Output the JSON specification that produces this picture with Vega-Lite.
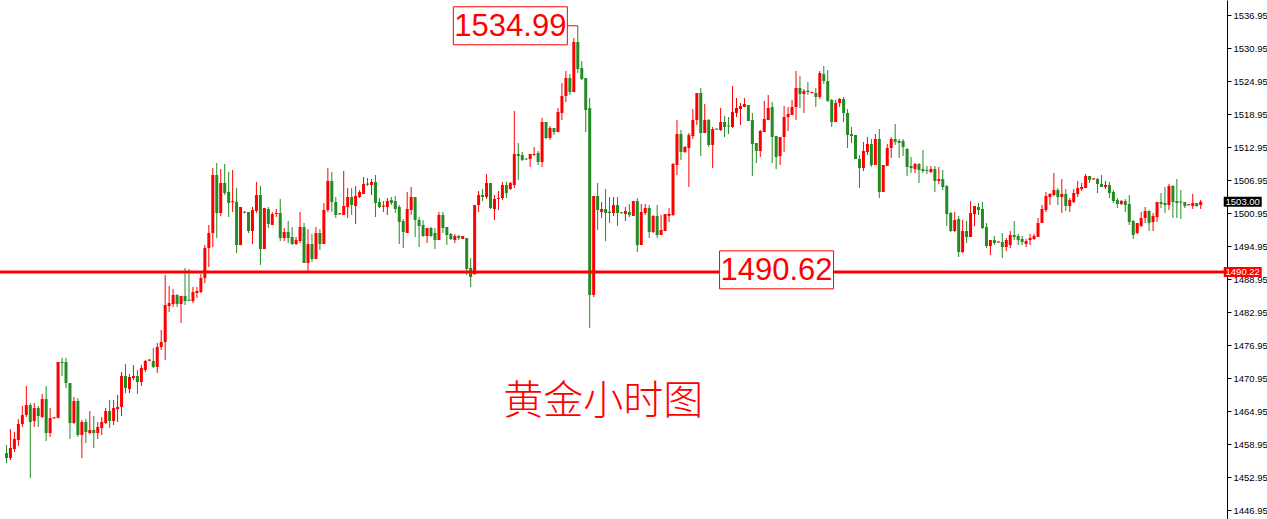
{
"$schema": "https://vega.github.io/schema/vega-lite/v6.json",
"width": 1227, "height": 519,
"autosize": {"type": "none"},
"padding": {"left": 0, "top": 0, "right": 40, "bottom": 0},
"background": "#ffffff",
"config": {"view": {"stroke": null}, "axisY": {"labelOverlap": false, "labelFlush": false, "labelBound": false}},
"datasets": {"candles": [
{"i":0,"o":1457.31,"h":1458.77,"l":1455.49,"c":1456.41},
{"i":1,"o":1456.41,"h":1461.68,"l":1456.04,"c":1458.23},
{"i":2,"o":1458.04,"h":1461.14,"l":1457.50,"c":1459.86},
{"i":3,"o":1459.68,"h":1463.49,"l":1458.59,"c":1462.59},
{"i":4,"o":1462.59,"h":1465.86,"l":1462.05,"c":1464.22},
{"i":5,"o":1464.22,"h":1469.50,"l":1463.86,"c":1466.04},
{"i":6,"o":1466.04,"h":1466.40,"l":1452.78,"c":1462.96},
{"i":7,"o":1463.14,"h":1466.40,"l":1462.05,"c":1465.49},
{"i":8,"o":1465.49,"h":1465.86,"l":1462.05,"c":1464.04},
{"i":9,"o":1463.86,"h":1468.04,"l":1463.68,"c":1467.13},
{"i":10,"o":1467.13,"h":1469.50,"l":1459.50,"c":1460.95},
{"i":11,"o":1460.95,"h":1465.49,"l":1460.23,"c":1463.68},
{"i":12,"o":1463.6,"h":1463.8,"l":1463.6,"c":1463.8},
{"i":13,"o":1463.7,"h":1473.87,"l":1463.6,"c":1473.87},
{"i":14,"o":1473.87,"h":1474.59,"l":1471.32,"c":1473.68},
{"i":15,"o":1473.87,"h":1474.59,"l":1469.13,"c":1470.04},
{"i":16,"o":1470.04,"h":1470.04,"l":1459.86,"c":1462.77},
{"i":17,"o":1462.77,"h":1467.50,"l":1462.59,"c":1466.77},
{"i":18,"o":1466.77,"h":1467.31,"l":1460.23,"c":1460.59},
{"i":19,"o":1460.59,"h":1463.32,"l":1456.41,"c":1462.96},
{"i":20,"o":1462.96,"h":1463.49,"l":1459.13,"c":1461.14},
{"i":21,"o":1460.95,"h":1464.95,"l":1460.77,"c":1461.50},
{"i":22,"o":1461.50,"h":1464.04,"l":1458.23,"c":1460.95},
{"i":23,"o":1460.95,"h":1462.96,"l":1459.86,"c":1462.05},
{"i":24,"o":1461.86,"h":1463.86,"l":1460.59,"c":1462.96},
{"i":25,"o":1462.77,"h":1465.49,"l":1462.59,"c":1464.95},
{"i":26,"o":1464.95,"h":1466.95,"l":1461.86,"c":1463.14},
{"i":27,"o":1463.14,"h":1466.95,"l":1462.41,"c":1465.49},
{"i":28,"o":1465.31,"h":1467.86,"l":1462.96,"c":1465.68},
{"i":29,"o":1465.68,"h":1472.05,"l":1464.04,"c":1471.32},
{"i":30,"o":1471.32,"h":1473.50,"l":1468.22,"c":1469.13},
{"i":31,"o":1468.95,"h":1471.68,"l":1468.22,"c":1471.13},
{"i":32,"o":1470.95,"h":1473.32,"l":1470.59,"c":1471.32},
{"i":33,"o":1471.32,"h":1472.41,"l":1468.04,"c":1470.23},
{"i":34,"o":1470.23,"h":1473.32,"l":1469.50,"c":1472.77},
{"i":35,"o":1472.41,"h":1474.23,"l":1472.05,"c":1474.05},
{"i":36,"o":1474.1,"h":1474.4,"l":1474.0,"c":1474.3},
{"i":37,"o":1474.05,"h":1476.40,"l":1472.77,"c":1472.95},
{"i":38,"o":1472.95,"h":1477.32,"l":1471.86,"c":1476.59},
{"i":39,"o":1476.59,"h":1479.68,"l":1476.04,"c":1477.50},
{"i":40,"o":1477.50,"h":1489.68,"l":1474.23,"c":1484.22},
{"i":41,"o":1484.04,"h":1487.68,"l":1482.95,"c":1484.59},
{"i":42,"o":1484.40,"h":1487.13,"l":1483.86,"c":1486.04},
{"i":43,"o":1486.04,"h":1486.22,"l":1483.86,"c":1484.40},
{"i":44,"o":1484.40,"h":1485.86,"l":1480.95,"c":1485.86},
{"i":45,"o":1485.86,"h":1490.95,"l":1484.22,"c":1484.95},
{"i":46,"o":1485.2,"h":1490.77,"l":1484.95,"c":1485.0},
{"i":47,"o":1484.95,"h":1487.50,"l":1484.59,"c":1486.59},
{"i":48,"o":1486.40,"h":1487.50,"l":1485.50,"c":1486.77},
{"i":49,"o":1486.59,"h":1489.86,"l":1486.40,"c":1489.13},
{"i":50,"o":1489.13,"h":1495.13,"l":1488.22,"c":1494.59},
{"i":51,"o":1494.59,"h":1498.77,"l":1491.13,"c":1497.32},
{"i":52,"o":1497.32,"h":1509.13,"l":1494.77,"c":1507.86},
{"i":53,"o":1507.86,"h":1510.04,"l":1496.41,"c":1500.95},
{"i":54,"o":1500.95,"h":1508.95,"l":1500.41,"c":1506.41},
{"i":55,"o":1506.41,"h":1509.86,"l":1504.22,"c":1504.59},
{"i":56,"o":1504.77,"h":1508.41,"l":1500.22,"c":1502.77},
{"i":57,"o":1502.9,"h":1508.77,"l":1501.14,"c":1503.1},
{"i":58,"o":1503.0,"h":1505.50,"l":1493.68,"c":1495.13},
{"i":59,"o":1495.13,"h":1502.05,"l":1495.13,"c":1502.05},
{"i":60,"o":1501.2,"h":1501.3,"l":1500.9,"c":1501.0},
{"i":61,"o":1501.14,"h":1501.14,"l":1497.32,"c":1497.68},
{"i":62,"o":1497.68,"h":1502.05,"l":1495.32,"c":1501.50},
{"i":63,"o":1501.32,"h":1506.59,"l":1500.95,"c":1504.22},
{"i":64,"o":1504.22,"h":1505.86,"l":1491.50,"c":1494.41},
{"i":65,"o":1494.41,"h":1501.86,"l":1494.41,"c":1501.86},
{"i":66,"o":1501.68,"h":1502.05,"l":1498.23,"c":1498.95},
{"i":67,"o":1498.77,"h":1501.14,"l":1498.77,"c":1500.77},
{"i":68,"o":1500.77,"h":1501.68,"l":1500.22,"c":1500.95},
{"i":69,"o":1500.95,"h":1503.50,"l":1495.86,"c":1496.41},
{"i":70,"o":1496.41,"h":1498.23,"l":1495.86,"c":1497.50},
{"i":71,"o":1497.50,"h":1499.50,"l":1495.50,"c":1496.41},
{"i":72,"o":1496.59,"h":1498.41,"l":1495.13,"c":1495.32},
{"i":73,"o":1495.32,"h":1496.59,"l":1495.13,"c":1496.04},
{"i":74,"o":1495.86,"h":1501.14,"l":1495.50,"c":1498.41},
{"i":75,"o":1498.41,"h":1499.13,"l":1491.86,"c":1491.86},
{"i":76,"o":1491.86,"h":1498.04,"l":1490.41,"c":1495.32},
{"i":77,"o":1495.32,"h":1497.14,"l":1492.05,"c":1492.59},
{"i":78,"o":1492.59,"h":1498.41,"l":1492.59,"c":1497.32},
{"i":79,"o":1497.32,"h":1498.04,"l":1494.23,"c":1495.32},
{"i":80,"o":1495.32,"h":1502.77,"l":1495.32,"c":1501.50},
{"i":81,"o":1501.50,"h":1509.13,"l":1501.14,"c":1506.77},
{"i":82,"o":1506.77,"h":1508.41,"l":1501.14,"c":1502.95},
{"i":83,"o":1502.95,"h":1503.86,"l":1500.04,"c":1500.59},
{"i":84,"o":1500.7,"h":1500.9,"l":1500.7,"c":1500.9},
{"i":85,"o":1500.59,"h":1508.59,"l":1500.59,"c":1502.23},
{"i":86,"o":1502.05,"h":1505.50,"l":1500.04,"c":1503.86},
{"i":87,"o":1503.86,"h":1505.50,"l":1500.59,"c":1502.41},
{"i":88,"o":1502.23,"h":1505.86,"l":1498.95,"c":1504.04},
{"i":89,"o":1503.86,"h":1505.13,"l":1503.68,"c":1504.77},
{"i":90,"o":1504.41,"h":1507.50,"l":1504.41,"c":1506.23},
{"i":91,"o":1506.3,"h":1507.32,"l":1505.86,"c":1506.1},
{"i":92,"o":1506.04,"h":1507.13,"l":1504.22,"c":1506.59},
{"i":93,"o":1506.59,"h":1507.86,"l":1500.22,"c":1502.77},
{"i":94,"o":1502.95,"h":1503.68,"l":1501.86,"c":1502.05},
{"i":95,"o":1502.1,"h":1503.13,"l":1501.14,"c":1502.3},
{"i":96,"o":1502.05,"h":1503.68,"l":1500.59,"c":1503.13},
{"i":97,"o":1503.32,"h":1503.86,"l":1502.41,"c":1502.77},
{"i":98,"o":1503.13,"h":1504.04,"l":1500.95,"c":1501.68},
{"i":99,"o":1502.05,"h":1502.41,"l":1495.32,"c":1499.32},
{"i":100,"o":1499.50,"h":1499.86,"l":1494.59,"c":1497.50},
{"i":101,"o":1497.32,"h":1504.77,"l":1497.32,"c":1501.68},
{"i":102,"o":1501.50,"h":1505.68,"l":1500.59,"c":1503.86},
{"i":103,"o":1503.86,"h":1503.86,"l":1496.59,"c":1499.68},
{"i":104,"o":1499.68,"h":1500.22,"l":1494.77,"c":1498.59},
{"i":105,"o":1498.77,"h":1499.68,"l":1496.59,"c":1496.77},
{"i":106,"o":1496.77,"h":1498.23,"l":1495.50,"c":1498.23},
{"i":107,"o":1498.23,"h":1498.41,"l":1496.59,"c":1496.77},
{"i":108,"o":1497.32,"h":1498.23,"l":1494.41,"c":1496.04},
{"i":109,"o":1496.04,"h":1501.14,"l":1496.04,"c":1500.59},
{"i":110,"o":1500.59,"h":1501.14,"l":1497.32,"c":1498.23},
{"i":111,"o":1498.41,"h":1498.41,"l":1495.13,"c":1496.95},
{"i":112,"o":1497.14,"h":1497.32,"l":1496.04,"c":1496.23},
{"i":113,"o":1496.04,"h":1497.14,"l":1495.50,"c":1496.77},
{"i":114,"o":1496.77,"h":1496.95,"l":1496.04,"c":1496.41},
{"i":115,"o":1496.23,"h":1496.77,"l":1496.23,"c":1496.77},
{"i":116,"o":1496.41,"h":1496.41,"l":1489.68,"c":1490.77},
{"i":117,"o":1490.95,"h":1492.77,"l":1487.50,"c":1489.32},
{"i":118,"o":1489.86,"h":1502.41,"l":1489.68,"c":1502.41},
{"i":119,"o":1502.41,"h":1504.95,"l":1501.14,"c":1504.22},
{"i":120,"o":1504.22,"h":1505.32,"l":1503.13,"c":1503.86},
{"i":121,"o":1503.86,"h":1508.04,"l":1503.50,"c":1506.41},
{"i":122,"o":1506.41,"h":1506.41,"l":1501.68,"c":1501.86},
{"i":123,"o":1501.68,"h":1504.22,"l":1499.68,"c":1503.50},
{"i":124,"o":1503.50,"h":1504.95,"l":1501.50,"c":1503.68},
{"i":125,"o":1503.68,"h":1506.59,"l":1503.32,"c":1506.04},
{"i":126,"o":1506.04,"h":1506.59,"l":1503.68,"c":1504.59},
{"i":127,"o":1505.32,"h":1506.59,"l":1505.13,"c":1506.41},
{"i":128,"o":1506.04,"h":1519.50,"l":1505.50,"c":1511.68},
{"i":129,"o":1511.68,"h":1513.68,"l":1506.95,"c":1511.32},
{"i":130,"o":1511.50,"h":1512.05,"l":1510.41,"c":1510.59},
{"i":131,"o":1510.85,"h":1510.9,"l":1510.6,"c":1510.7},
{"i":132,"o":1510.77,"h":1511.68,"l":1509.32,"c":1511.68},
{"i":133,"o":1511.50,"h":1512.95,"l":1511.32,"c":1511.68},
{"i":134,"o":1511.86,"h":1512.23,"l":1509.68,"c":1510.23},
{"i":135,"o":1510.23,"h":1518.23,"l":1509.32,"c":1517.50},
{"i":136,"o":1517.50,"h":1517.50,"l":1514.41,"c":1514.59},
{"i":137,"o":1514.59,"h":1516.77,"l":1514.23,"c":1516.41},
{"i":138,"o":1516.41,"h":1516.41,"l":1515.13,"c":1515.68},
{"i":139,"o":1515.68,"h":1520.05,"l":1515.68,"c":1519.32},
{"i":140,"o":1519.14,"h":1524.59,"l":1517.86,"c":1522.23},
{"i":141,"o":1522.23,"h":1526.77,"l":1521.14,"c":1525.50},
{"i":142,"o":1525.50,"h":1526.23,"l":1522.41,"c":1522.95},
{"i":143,"o":1522.95,"h":1532.77,"l":1522.95,"c":1532.05},
{"i":144,"o":1532.05,"h":1534.99,"l":1526.41,"c":1527.13},
{"i":145,"o":1527.32,"h":1528.59,"l":1525.13,"c":1525.32},
{"i":146,"o":1525.50,"h":1525.50,"l":1515.68,"c":1519.68},
{"i":147,"o":1520.05,"h":1521.86,"l":1480.05,"c":1486.04},
{"i":148,"o":1486.04,"h":1504.04,"l":1485.68,"c":1504.04},
{"i":149,"o":1504.04,"h":1506.41,"l":1497.86,"c":1501.50},
{"i":150,"o":1501.14,"h":1502.95,"l":1500.04,"c":1501.68},
{"i":151,"o":1501.68,"h":1505.32,"l":1495.86,"c":1500.95},
{"i":152,"o":1501.2,"h":1503.86,"l":1499.13,"c":1500.95},
{"i":153,"o":1500.95,"h":1503.86,"l":1500.41,"c":1502.41},
{"i":154,"o":1502.41,"h":1503.86,"l":1498.59,"c":1500.95},
{"i":155,"o":1501.1,"h":1501.1,"l":1500.9,"c":1500.9},
{"i":156,"o":1500.77,"h":1502.05,"l":1499.50,"c":1501.32},
{"i":157,"o":1501.14,"h":1502.59,"l":1500.22,"c":1500.59},
{"i":158,"o":1500.41,"h":1503.13,"l":1500.41,"c":1503.13},
{"i":159,"o":1503.13,"h":1503.68,"l":1493.86,"c":1495.13},
{"i":160,"o":1495.13,"h":1502.59,"l":1495.13,"c":1501.14},
{"i":161,"o":1500.95,"h":1502.59,"l":1500.59,"c":1501.86},
{"i":162,"o":1501.86,"h":1502.41,"l":1496.41,"c":1497.50},
{"i":163,"o":1497.50,"h":1500.59,"l":1497.32,"c":1500.41},
{"i":164,"o":1500.41,"h":1502.41,"l":1496.41,"c":1496.95},
{"i":165,"o":1496.95,"h":1500.59,"l":1496.95,"c":1497.86},
{"i":166,"o":1497.68,"h":1500.77,"l":1497.68,"c":1500.77},
{"i":167,"o":1500.41,"h":1501.86,"l":1499.32,"c":1500.77},
{"i":168,"o":1500.59,"h":1510.04,"l":1500.41,"c":1509.86},
{"i":169,"o":1509.68,"h":1517.86,"l":1507.86,"c":1515.32},
{"i":170,"o":1515.32,"h":1516.04,"l":1510.59,"c":1512.05},
{"i":171,"o":1512.05,"h":1513.14,"l":1511.86,"c":1512.95},
{"i":172,"o":1512.77,"h":1515.50,"l":1505.68,"c":1515.13},
{"i":173,"o":1514.95,"h":1519.86,"l":1514.41,"c":1517.86},
{"i":174,"o":1517.86,"h":1522.77,"l":1516.95,"c":1522.77},
{"i":175,"o":1522.77,"h":1523.68,"l":1511.32,"c":1515.50},
{"i":176,"o":1515.50,"h":1520.77,"l":1515.50,"c":1517.86},
{"i":177,"o":1517.86,"h":1518.04,"l":1512.95,"c":1513.32},
{"i":178,"o":1513.32,"h":1516.59,"l":1509.13,"c":1516.23},
{"i":179,"o":1516.3,"h":1516.3,"l":1516.1,"c":1516.1},
{"i":180,"o":1516.04,"h":1520.05,"l":1515.86,"c":1517.50},
{"i":181,"o":1517.50,"h":1518.59,"l":1514.77,"c":1516.59},
{"i":182,"o":1516.85,"h":1518.41,"l":1515.32,"c":1516.7},
{"i":183,"o":1516.59,"h":1524.04,"l":1516.41,"c":1519.32},
{"i":184,"o":1519.14,"h":1521.86,"l":1518.41,"c":1520.05},
{"i":185,"o":1519.86,"h":1520.95,"l":1516.95,"c":1520.41},
{"i":186,"o":1520.23,"h":1521.86,"l":1520.23,"c":1520.77},
{"i":187,"o":1520.59,"h":1520.59,"l":1517.68,"c":1517.68},
{"i":188,"o":1517.86,"h":1519.14,"l":1507.68,"c":1513.50},
{"i":189,"o":1513.68,"h":1513.68,"l":1510.04,"c":1512.23},
{"i":190,"o":1512.23,"h":1516.04,"l":1511.14,"c":1515.86},
{"i":191,"o":1515.68,"h":1521.32,"l":1515.68,"c":1518.04},
{"i":192,"o":1517.86,"h":1522.41,"l":1517.86,"c":1520.05},
{"i":193,"o":1520.23,"h":1521.14,"l":1510.04,"c":1514.77},
{"i":194,"o":1514.95,"h":1514.95,"l":1508.95,"c":1511.14},
{"i":195,"o":1511.32,"h":1514.77,"l":1509.68,"c":1514.77},
{"i":196,"o":1514.77,"h":1520.41,"l":1512.05,"c":1518.41},
{"i":197,"o":1518.41,"h":1520.23,"l":1515.86,"c":1518.95},
{"i":198,"o":1518.77,"h":1521.50,"l":1518.77,"c":1520.23},
{"i":199,"o":1520.23,"h":1526.77,"l":1517.86,"c":1523.68},
{"i":200,"o":1523.68,"h":1525.86,"l":1520.05,"c":1522.59},
{"i":201,"o":1522.59,"h":1523.50,"l":1519.14,"c":1523.14},
{"i":202,"o":1523.2,"h":1524.77,"l":1522.41,"c":1522.95},
{"i":203,"o":1522.77,"h":1523.0,"l":1522.7,"c":1522.95},
{"i":204,"o":1522.77,"h":1523.68,"l":1520.23,"c":1522.05},
{"i":205,"o":1522.05,"h":1526.77,"l":1521.68,"c":1526.41},
{"i":206,"o":1526.23,"h":1527.68,"l":1524.41,"c":1524.95},
{"i":207,"o":1524.95,"h":1526.95,"l":1521.14,"c":1521.32},
{"i":208,"o":1521.50,"h":1521.68,"l":1516.59,"c":1517.50},
{"i":209,"o":1517.50,"h":1521.50,"l":1517.50,"c":1520.95},
{"i":210,"o":1520.95,"h":1521.86,"l":1520.23,"c":1521.68},
{"i":211,"o":1521.68,"h":1522.05,"l":1517.50,"c":1519.14},
{"i":212,"o":1519.14,"h":1519.86,"l":1512.77,"c":1515.13},
{"i":213,"o":1515.32,"h":1516.59,"l":1513.68,"c":1514.95},
{"i":214,"o":1515.13,"h":1515.13,"l":1510.77,"c":1510.77},
{"i":215,"o":1510.77,"h":1511.50,"l":1505.50,"c":1509.13},
{"i":216,"o":1509.13,"h":1513.86,"l":1508.59,"c":1512.23},
{"i":217,"o":1512.05,"h":1514.77,"l":1511.50,"c":1513.50},
{"i":218,"o":1513.50,"h":1514.41,"l":1509.32,"c":1509.68},
{"i":219,"o":1509.68,"h":1515.32,"l":1509.68,"c":1514.41},
{"i":220,"o":1514.41,"h":1516.23,"l":1503.68,"c":1504.77},
{"i":221,"o":1504.77,"h":1509.68,"l":1504.77,"c":1509.68},
{"i":222,"o":1509.50,"h":1513.50,"l":1509.50,"c":1512.77},
{"i":223,"o":1512.77,"h":1514.77,"l":1510.95,"c":1514.41},
{"i":224,"o":1514.41,"h":1517.14,"l":1513.32,"c":1513.86},
{"i":225,"o":1514.05,"h":1514.41,"l":1510.95,"c":1513.68},
{"i":226,"o":1514.05,"h":1514.41,"l":1511.32,"c":1512.95},
{"i":227,"o":1512.59,"h":1512.77,"l":1507.68,"c":1509.32},
{"i":228,"o":1509.50,"h":1511.14,"l":1508.23,"c":1509.13},
{"i":229,"o":1508.95,"h":1510.04,"l":1508.23,"c":1509.86},
{"i":230,"o":1509.86,"h":1510.04,"l":1506.41,"c":1508.77},
{"i":231,"o":1508.95,"h":1512.41,"l":1508.23,"c":1508.59},
{"i":232,"o":1508.77,"h":1509.50,"l":1508.04,"c":1508.59},
{"i":233,"o":1508.41,"h":1509.50,"l":1508.23,"c":1508.95},
{"i":234,"o":1508.95,"h":1509.50,"l":1504.77,"c":1506.77},
{"i":235,"o":1506.77,"h":1509.32,"l":1506.23,"c":1507.13},
{"i":236,"o":1507.13,"h":1508.77,"l":1505.13,"c":1505.68},
{"i":237,"o":1505.86,"h":1506.04,"l":1498.59,"c":1500.77},
{"i":238,"o":1500.95,"h":1501.14,"l":1497.50,"c":1497.68},
{"i":239,"o":1497.68,"h":1501.14,"l":1497.50,"c":1499.68},
{"i":240,"o":1499.86,"h":1500.41,"l":1492.95,"c":1493.86},
{"i":241,"o":1493.86,"h":1499.68,"l":1493.68,"c":1497.68},
{"i":242,"o":1497.68,"h":1499.50,"l":1495.50,"c":1496.59},
{"i":243,"o":1496.59,"h":1503.13,"l":1496.59,"c":1500.95},
{"i":244,"o":1500.77,"h":1502.23,"l":1498.59,"c":1502.23},
{"i":245,"o":1502.05,"h":1502.77,"l":1500.59,"c":1501.50},
{"i":246,"o":1501.68,"h":1502.95,"l":1498.04,"c":1498.23},
{"i":247,"o":1498.41,"h":1499.13,"l":1494.59,"c":1494.95},
{"i":248,"o":1494.95,"h":1496.04,"l":1493.32,"c":1496.04},
{"i":249,"o":1496.04,"h":1496.77,"l":1495.13,"c":1495.50},
{"i":250,"o":1495.6,"h":1495.8,"l":1495.6,"c":1495.8},
{"i":251,"o":1495.68,"h":1497.32,"l":1492.77,"c":1494.77},
{"i":252,"o":1494.77,"h":1496.41,"l":1494.05,"c":1496.04},
{"i":253,"o":1495.13,"h":1497.68,"l":1494.59,"c":1496.95},
{"i":254,"o":1496.95,"h":1499.50,"l":1496.04,"c":1496.59},
{"i":255,"o":1496.77,"h":1497.14,"l":1495.13,"c":1496.04},
{"i":256,"o":1496.23,"h":1496.77,"l":1495.13,"c":1495.68},
{"i":257,"o":1495.32,"h":1496.23,"l":1494.77,"c":1495.86},
{"i":258,"o":1496.04,"h":1497.14,"l":1495.13,"c":1496.41},
{"i":259,"o":1496.23,"h":1497.14,"l":1496.04,"c":1496.77},
{"i":260,"o":1496.59,"h":1500.04,"l":1496.59,"c":1499.13},
{"i":261,"o":1499.13,"h":1502.41,"l":1499.13,"c":1501.68},
{"i":262,"o":1501.50,"h":1504.77,"l":1501.14,"c":1504.04},
{"i":263,"o":1503.86,"h":1504.59,"l":1502.41,"c":1504.41},
{"i":264,"o":1504.22,"h":1508.23,"l":1504.04,"c":1505.13},
{"i":265,"o":1505.13,"h":1505.50,"l":1502.41,"c":1503.86},
{"i":266,"o":1503.86,"h":1507.13,"l":1500.95,"c":1504.41},
{"i":267,"o":1504.41,"h":1505.32,"l":1501.32,"c":1502.23},
{"i":268,"o":1502.23,"h":1503.68,"l":1501.14,"c":1503.32},
{"i":269,"o":1502.95,"h":1505.32,"l":1502.77,"c":1504.59},
{"i":270,"o":1504.41,"h":1506.77,"l":1503.86,"c":1505.50},
{"i":271,"o":1505.32,"h":1506.41,"l":1504.95,"c":1505.68},
{"i":272,"o":1505.50,"h":1508.04,"l":1505.50,"c":1507.68},
{"i":273,"o":1507.68,"h":1507.68,"l":1506.41,"c":1506.95},
{"i":274,"o":1507.05,"h":1507.25,"l":1507.05,"c":1507.25},
{"i":275,"o":1507.13,"h":1507.32,"l":1504.59,"c":1506.23},
{"i":276,"o":1506.23,"h":1507.86,"l":1505.68,"c":1505.68},
{"i":277,"o":1505.68,"h":1506.77,"l":1505.32,"c":1506.04},
{"i":278,"o":1506.04,"h":1506.59,"l":1503.68,"c":1504.59},
{"i":279,"o":1504.77,"h":1505.13,"l":1502.77,"c":1503.13},
{"i":280,"o":1503.32,"h":1503.68,"l":1501.86,"c":1502.59},
{"i":281,"o":1502.59,"h":1503.32,"l":1502.41,"c":1503.13},
{"i":282,"o":1503.13,"h":1503.50,"l":1501.14,"c":1502.41},
{"i":283,"o":1502.59,"h":1504.22,"l":1498.77,"c":1499.32},
{"i":284,"o":1499.50,"h":1499.68,"l":1496.23,"c":1496.95},
{"i":285,"o":1497.32,"h":1499.13,"l":1497.14,"c":1499.13},
{"i":286,"o":1498.59,"h":1501.14,"l":1498.41,"c":1500.04},
{"i":287,"o":1500.04,"h":1502.05,"l":1499.13,"c":1501.32},
{"i":288,"o":1501.32,"h":1501.50,"l":1497.68,"c":1499.13},
{"i":289,"o":1499.32,"h":1500.95,"l":1497.68,"c":1500.41},
{"i":290,"o":1500.23,"h":1502.95,"l":1499.32,"c":1502.95},
{"i":291,"o":1502.95,"h":1504.59,"l":1501.86,"c":1502.59},
{"i":292,"o":1502.77,"h":1505.68,"l":1500.95,"c":1502.41},
{"i":293,"o":1502.41,"h":1506.23,"l":1501.50,"c":1505.86},
{"i":294,"o":1505.86,"h":1506.04,"l":1500.04,"c":1502.95},
{"i":295,"o":1503.13,"h":1507.13,"l":1500.04,"c":1502.77},
{"i":296,"o":1503.05,"h":1505.13,"l":1499.86,"c":1502.85},
{"i":297,"o":1502.95,"h":1502.95,"l":1501.86,"c":1502.23},
{"i":298,"o":1502.35,"h":1502.55,"l":1502.35,"c":1502.55},
{"i":299,"o":1502.23,"h":1504.41,"l":1501.68,"c":1502.77},
{"i":300,"o":1502.77,"h":1502.77,"l":1502.05,"c":1502.23},
{"i":301,"o":1502.41,"h":1503.32,"l":1501.68,"c":1503.00}
]},
"layer": [
{
"data": {"name": "candles"},
"mark": {"type": "rule", "strokeWidth": 1},
"encoding": {
"x": {"field": "i", "type": "quantitative", "scale": {"domain": [-0.375, 306.375], "nice": false, "zero": false}, "axis": null},
"y": {"field": "l", "type": "quantitative", "scale": {"domain": [1445.32, 1539.68], "nice": false, "zero": false},
"axis": {"orient": "right", "values": [1446.95,1452.95,1458.95,1464.95,1470.95,1476.95,1482.95,1488.95,1494.95,1500.95,1506.95,1512.95,1518.95,1524.95,1530.95,1536.95], "tickCount": 40, "format": ".2f", "labelFont": "Liberation Sans", "labelFontSize": 9.5, "labelColor": "#000000", "domainColor": "#000000", "domainWidth": 1, "tickColor": "#000000", "tickSize": 4, "tickWidth": 1, "labelPadding": 2, "grid": false, "title": null, "labelOverlap": false, "labelFlush": false, "labelBound": false}},
"y2": {"field": "h"},
"color": {"condition": {"test": "datum.c >= datum.o", "value": "#ff0000"}, "value": "#228b22"}
}
},
{
"data": {"name": "candles"},
"mark": {"type": "bar", "width": 3},
"encoding": {
"x": {"field": "i", "type": "quantitative", "scale": {"domain": [-0.375, 306.375], "nice": false, "zero": false}},
"y": {"field": "o", "type": "quantitative", "scale": {"domain": [1445.32, 1539.68], "nice": false, "zero": false}},
"y2": {"field": "c"},
"color": {"condition": {"test": "datum.c >= datum.o", "value": "#ff0000"}, "value": "#228b22"}
}
},
{
"data": {"values": [{"level": 1490.22}]},
"mark": {"type": "rule", "color": "#ff0000", "strokeWidth": 3},
"encoding": {"y": {"field": "level", "type": "quantitative", "scale": {"domain": [1445.32, 1539.68], "nice": false, "zero": false}}}
},
{
"data": {"values": [{"a": 141.25, "b": 144, "p": 1534.99}]},
"mark": {"type": "rule", "color": "#ff0000", "strokeWidth": 1},
"encoding": {
"x": {"field": "a", "type": "quantitative", "scale": {"domain": [-0.375, 306.375], "nice": false, "zero": false}},
"x2": {"field": "b"},
"y": {"field": "p", "type": "quantitative", "scale": {"domain": [1445.32, 1539.68], "nice": false, "zero": false}}
}
},
{
"data": {"values": [{"i": 127.0, "p": 1534.99, "label": "1534.99"}, {"i": 194.1, "p": 1490.62, "label": "1490.62"}]},
"mark": {"type": "tick", "orient": "horizontal", "size": 114, "thickness": 38, "fill": "#ffffff", "stroke": "#ff0000", "strokeWidth": 1, "opacity": 1},
"encoding": {
"x": {"field": "i", "type": "quantitative", "scale": {"domain": [-0.375, 306.375], "nice": false, "zero": false}},
"y": {"field": "p", "type": "quantitative", "scale": {"domain": [1445.32, 1539.68], "nice": false, "zero": false}}
}
},
{
"data": {"values": [{"i": 127.0, "p": 1534.99, "label": "1534.99"}, {"i": 194.1, "p": 1490.62, "label": "1490.62"}]},
"mark": {"type": "text", "font": "Liberation Sans", "fontSize": 31, "color": "#ff0000", "align": "center", "baseline": "middle", "dy": 1},
"encoding": {
"x": {"field": "i", "type": "quantitative", "scale": {"domain": [-0.375, 306.375], "nice": false, "zero": false}},
"y": {"field": "p", "type": "quantitative", "scale": {"domain": [1445.32, 1539.68], "nice": false, "zero": false}},
"text": {"field": "label"}
}
},
{
"data": {"values": [{"i": 150.4, "p": 1466.59, "label": "黄金小时图"}]},
"mark": {"type": "text", "font": "Noto Sans CJK SC", "fontSize": 40, "fontWeight": 300, "color": "#ff0000", "align": "center", "baseline": "middle"},
"encoding": {
"x": {"field": "i", "type": "quantitative", "scale": {"domain": [-0.375, 306.375], "nice": false, "zero": false}},
"y": {"field": "p", "type": "quantitative", "scale": {"domain": [1445.32, 1539.68], "nice": false, "zero": false}},
"text": {"field": "label"}
}
},
{
"data": {"values": [{"i": 311.6, "p": 1503.00, "label": "1503.00"}]},
"mark": {"type": "tick", "orient": "horizontal", "size": 38, "thickness": 10, "color": "#000000", "opacity": 1},
"encoding": {
"x": {"field": "i", "type": "quantitative", "scale": {"domain": [-0.375, 306.375], "nice": false, "zero": false}},
"y": {"field": "p", "type": "quantitative", "scale": {"domain": [1445.32, 1539.68], "nice": false, "zero": false}}
}
},
{
"data": {"values": [{"i": 311.6, "p": 1490.22, "label": "1490.22"}]},
"mark": {"type": "tick", "orient": "horizontal", "size": 38, "thickness": 10, "color": "#ff0000", "opacity": 1},
"encoding": {
"x": {"field": "i", "type": "quantitative", "scale": {"domain": [-0.375, 306.375], "nice": false, "zero": false}},
"y": {"field": "p", "type": "quantitative", "scale": {"domain": [1445.32, 1539.68], "nice": false, "zero": false}}
}
},
{
"data": {"values": [{"i": 311.6, "p": 1503.00, "label": "1503.00"}, {"i": 311.6, "p": 1490.22, "label": "1490.22"}]},
"mark": {"type": "text", "font": "Liberation Sans", "fontSize": 9.5, "color": "#ffffff", "align": "center", "baseline": "middle"},
"encoding": {
"x": {"field": "i", "type": "quantitative", "scale": {"domain": [-0.375, 306.375], "nice": false, "zero": false}},
"y": {"field": "p", "type": "quantitative", "scale": {"domain": [1445.32, 1539.68], "nice": false, "zero": false}},
"text": {"field": "label"}
}
}
]
}
